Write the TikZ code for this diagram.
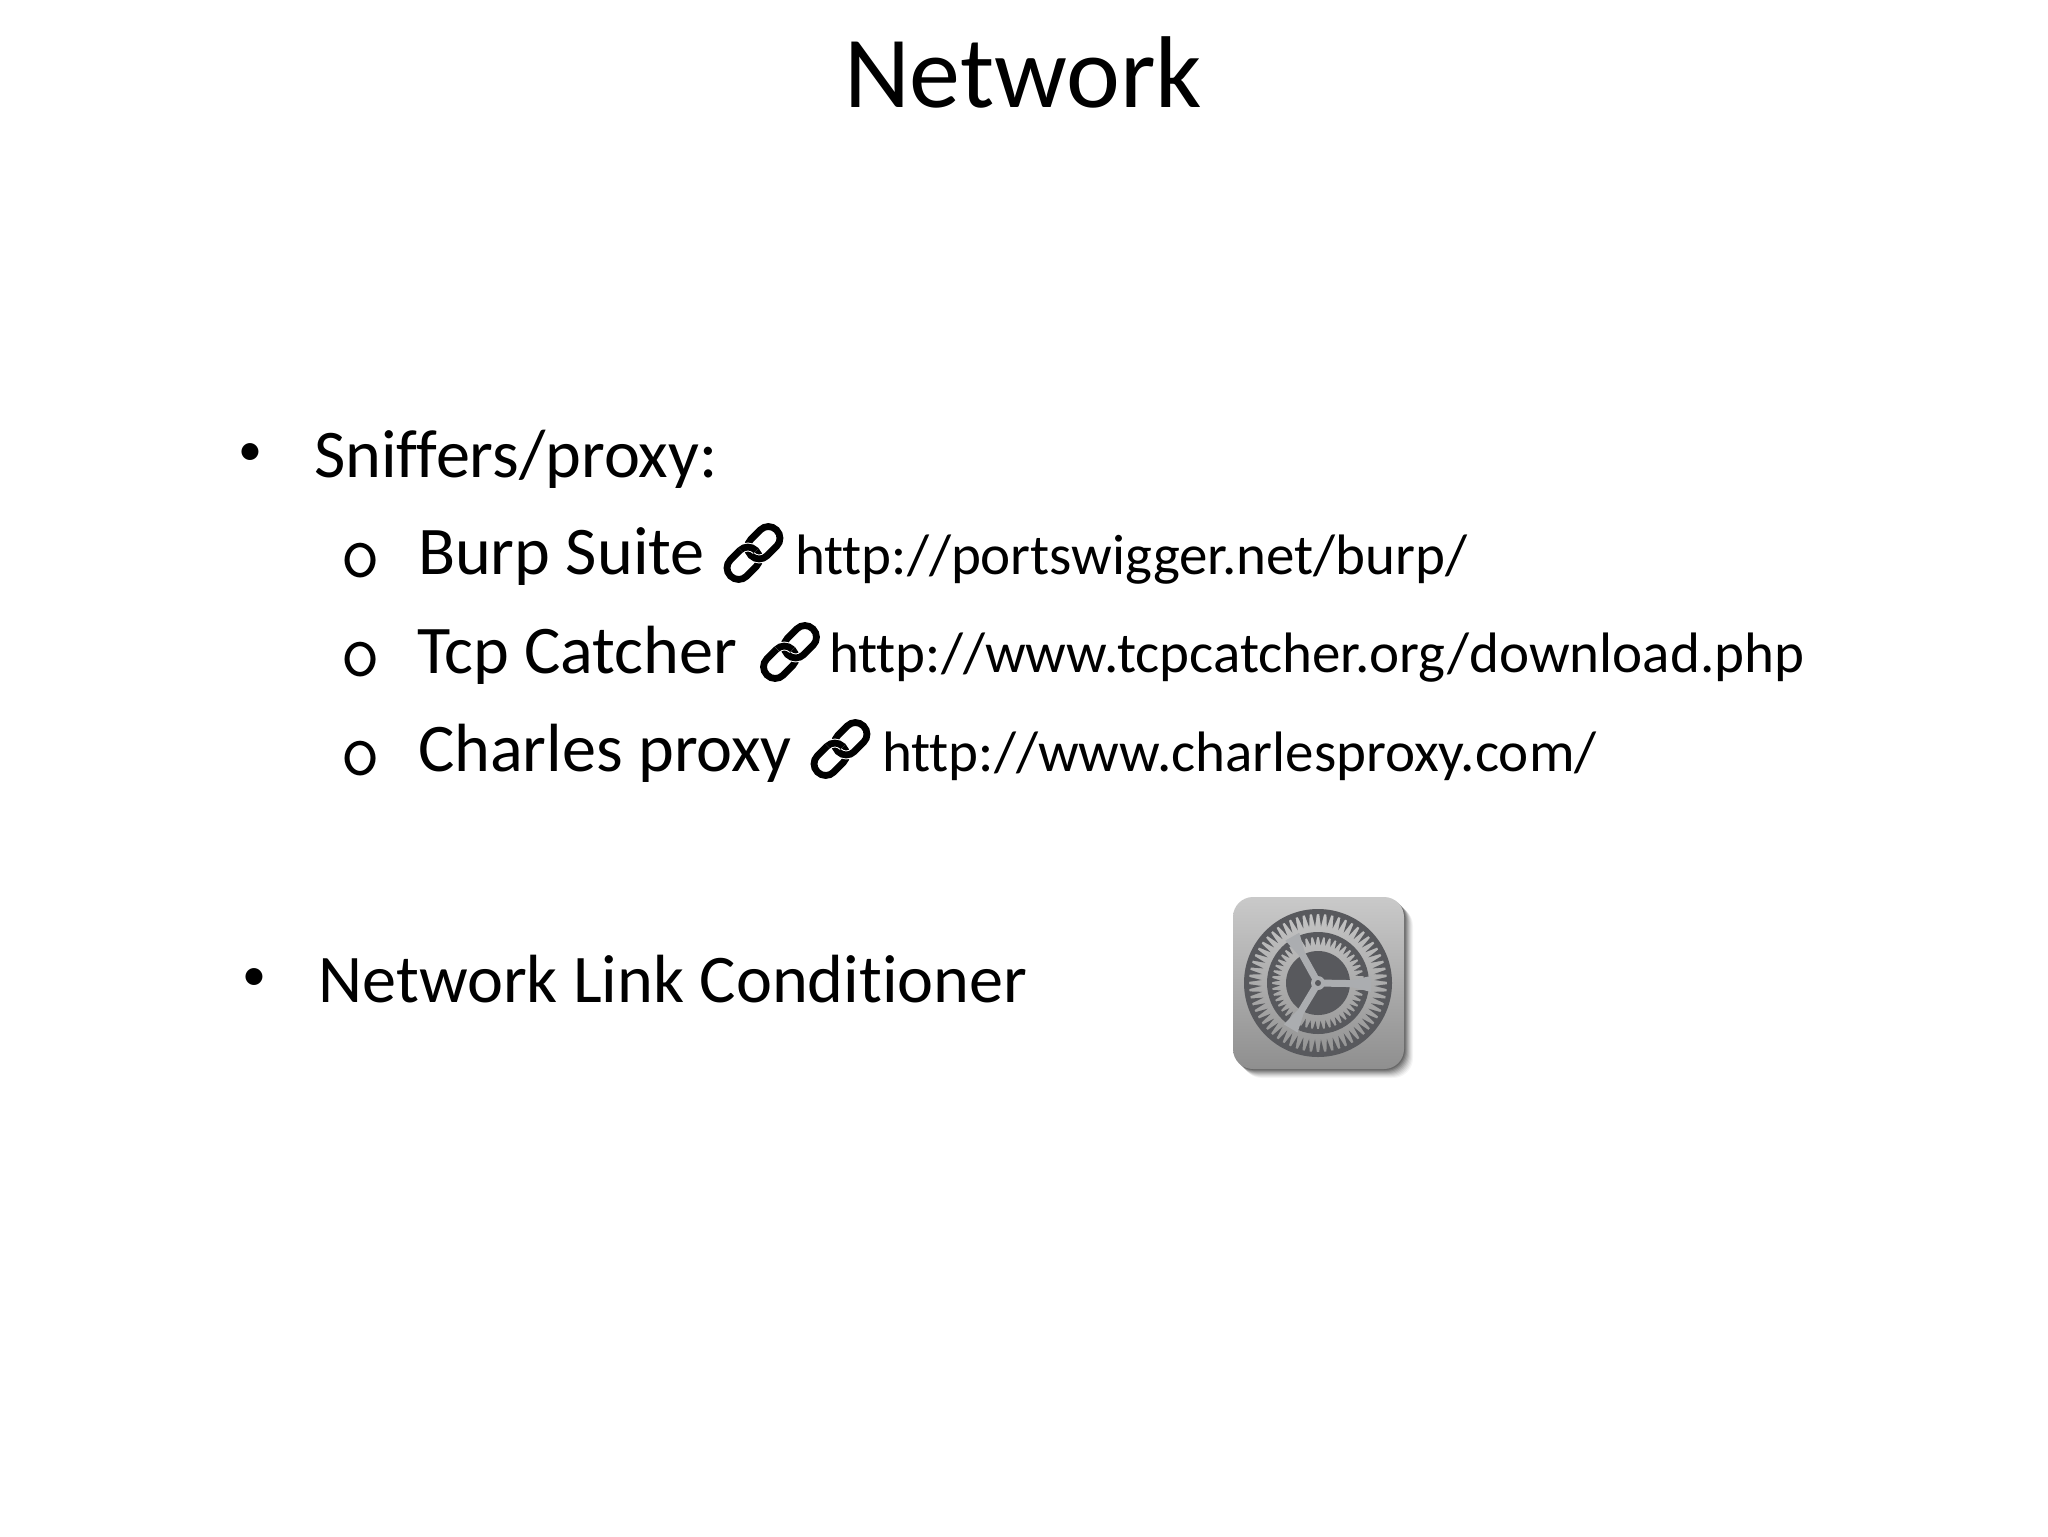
\documentclass[tikz,border=0pt]{standalone}
\usepackage{fontspec}
\setmainfont[Ligatures=NoCommon]{Carlito}
\definecolor{geardark}{HTML}{58595D}
\definecolor{gearlight}{HTML}{ABADB0}
\tikzset{
  px/.style={x=0.5pt,y=-0.5pt},
  txt/.style={anchor=base west,inner sep=0pt,outer sep=0pt,text=black},
  titletxt/.style={txt,font=\fontsize{51}{60}\selectfont},
  lvlone/.style={txt,font=\fontsize{34.1}{38}\selectfont},
  urltxt/.style={txt,font=\fontsize{28.5}{34}\selectfont},
  bul/.style={txt,font=\fontsize{24}{26}\selectfont},
  subbul/.style={txt,font=\ttfamily\fontsize{39}{40}\selectfont},
  chainlink/.style={draw=black,line width=3.4pt,rounded corners=5.6pt},
  chainhalo/.style={draw=white,line width=4.4pt,rounded corners=5.6pt},
  chainicon/.pic={
    \begin{scope}[rotate=45]
      \draw[chainlink] (-32.5,-11.5) rectangle (3.5,11.5);
      \draw[chainhalo] (-3.5,-11.5) rectangle (32.5,11.5);
      \draw[chainlink] (-3.5,-11.5) rectangle (32.5,11.5);
      \begin{scope}
        \clip (-7,-16) rectangle (7,0);
        \draw[chainhalo] (-32.5,-11.5) rectangle (3.5,11.5);
        \draw[chainlink] (-32.5,-11.5) rectangle (3.5,11.5);
      \end{scope}
    \end{scope}
  }
}
\begin{document}
\begin{tikzpicture}[px]
\useasboundingbox (0,0) rectangle (2048,1536);
\fill[white] (0,0) rectangle (2048,1536);
\node[titletxt] (title) at (844,108) {Network};
\node[bul] (b1) at (238,465.5) {•};
\node[lvlone] (sniff) at (314,477) {Sniffers/proxy:};
\node[subbul] (s1) at (340,577) {o};
\node[lvlone] (burp) at (418,574) {Burp Suite};
\pic at (753.5,553) {chainicon};
\node[urltxt] (u1) at (795,574) {http://portswigger.net/burp/};
\node[subbul] (s2) at (340,676) {o};
\node[lvlone] (tcp) at (417,673) {Tcp Catcher};
\pic at (790,652) {chainicon};
\node[urltxt] (u2) at (829,672) {http://www.tcpcatcher.org/download.php};
\node[subbul] (s3) at (340,775) {o};
\node[lvlone] (charles) at (418,771) {Charles proxy};
\pic at (840.5,749) {chainicon};
\node[urltxt] (u3) at (882,771) {http://www.charlesproxy.com/};
\node[bul] (b2) at (242,990.5) {•};
\node[lvlone] (nlc) at (318.5,1002) {Network Link Conditioner};
% settings icon
\foreach \o/\a in {9/0.04,8/0.05,7/0.06,6/0.07,5/0.09,4/0.1,3/0.12,2/0.14,1/0.15}
  \fill[black,opacity=\a,rounded corners=10pt] (1233+\o,897+\o) rectangle (1404+\o,1069+\o);
\shade[top color=black!21,bottom color=black!44,rounded corners=10pt]
  (1233,897) rectangle (1404,1069);
\begin{scope}[shift={(1318,983)}]
  % outer dark ring with the gear's teeth left open
  \fill[geardark,even odd rule] (0:74) arc[start angle=0,end angle=360,radius=74] -- cycle
    (-3:56.5) \foreach \k in {0,...,59} {
      -- (\k*6-3:56.5) -- (\k*6-1:69) -- (\k*6+1:69) -- (\k*6+3:56.5)
    } -- cycle;
  % inner dark ring, teeth pointing outwards from the inner gear
  \fill[geardark,even odd rule] (0:51) arc[start angle=0,end angle=360,radius=51] -- cycle
    (-3.75:38) \foreach \k in {0,...,47} {
      -- (\k*7.5-3.75:38) -- (\k*7.5-1.2:46) -- (\k*7.5+1.2:46) -- (\k*7.5+3.75:38)
    } -- cycle;
  \fill[geardark] (0,0) circle[radius=32];
  \foreach \r in {0,120,240} {
    \fill[gearlight,rotate=\r-1] (0,-3.5) -- (34,-3.5) -- (53,-8) -- (53,8) -- (34,3.5) -- (0,3.5) -- cycle;
  }
  \fill[gearlight] (0,0) circle[radius=7];
  \fill[geardark] (0,0) circle[radius=3];
\end{scope}
\end{tikzpicture}
\end{document}
